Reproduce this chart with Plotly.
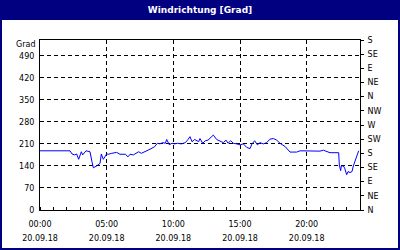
import plotly.graph_objects as go

DAY = "2018-09-20"
times = ["00:00", "00:30", "01:00", "01:30", "02:00", "02:15", "02:24", "02:36", "02:45", "02:54",
         "03:06", "03:12", "03:27", "03:45", "03:54", "04:00", "04:15", "04:30", "04:36", "04:45",
         "05:00", "05:07", "05:23", "05:45", "06:00", "06:24", "06:36", "06:45", "07:00", "07:15",
         "07:24", "07:36", "07:54", "08:15", "08:36", "08:48", "09:00", "09:12", "09:24", "09:30",
         "09:42", "09:54", "10:06", "10:18", "10:36", "10:54", "11:06", "11:15", "11:24", "11:36",
         "11:54", "12:00", "12:12", "12:24", "12:36", "13:00", "13:15", "13:30", "13:45", "13:57",
         "14:06", "14:18", "14:30", "14:45", "15:00", "15:15", "15:30", "15:45", "15:54", "16:06",
         "16:18", "16:30", "16:45", "17:00", "17:15", "17:30", "17:45", "18:00", "18:24", "18:45",
         "19:15", "19:30", "20:06", "21:00", "21:15", "21:30", "21:45", "22:24", "22:27", "22:33",
         "22:36", "22:45", "22:51", "23:00", "23:06", "23:15", "23:24", "23:30", "23:36", "23:45",
         "23:54"]
direction = [188, 188, 187, 188, 187, 188, 178, 175, 178, 161,
             185, 175, 188, 185, 153, 134, 140, 148, 178, 161,
             178, 177, 180, 183, 177, 177, 169, 177, 175, 180,
             185, 180, 185, 193, 201, 212, 210, 214, 212, 224,
             207, 212, 210, 212, 210, 214, 224, 233, 217, 224,
             217, 227, 212, 220, 222, 238, 224, 220, 214, 222,
             212, 220, 212, 210, 207, 210, 199, 195, 210, 220,
             207, 214, 210, 214, 225, 227, 222, 212, 201, 184,
             184, 188, 188, 187, 190, 187, 182, 182, 143, 125,
             140, 140, 133, 112, 122, 119, 122, 140, 153, 175,
             188]

y_ticks = [0, 70, 140, 210, 280, 350, 420, 490]
compass_vals = [0, 45, 90, 135, 180, 225, 270, 315, 360, 405, 450, 495, 540]
compass_text = ["N", "NE", "E", "SE", "S", "SW", "W", "NW", "N", "NE", "E", "SE", "S"]
x_tick_times = ["00:00", "05:00", "10:00", "15:00", "20:00"]
date_label = "20.09.18"
title = "Windrichtung [Grad]"
unit = "Grad"

x = [f"{DAY} {t}" for t in times]
x_ticks = [f"{DAY} {t}" for t in x_tick_times]
x_range = [f"{DAY} 00:00", "2018-09-21 00:00"]
y_range = [0, 540]

FONT = "DejaVu Sans"
NAVY = "#000080"

fig = go.Figure()
fig.add_trace(go.Scatter(x=x, y=direction, mode="lines",
                         line=dict(color="#0000ff", width=1), showlegend=False))
# same series on the secondary (compass / date) axes so they are drawn
fig.add_trace(go.Scatter(x=x, y=direction, mode="lines", xaxis="x2", yaxis="y2",
                         line=dict(color="rgba(0,0,0,0)", width=0), opacity=0,
                         hoverinfo="skip", showlegend=False))

fig.update_layout(
    width=400, height=250,
    margin=dict(l=40, r=40, t=40, b=40, autoexpand=False),
    paper_bgcolor="white", plot_bgcolor="white",
    title=dict(text=f"<b>{title}</b>", x=0.5, xanchor="center", y=1 - 10 / 250,
               yanchor="middle", yref="container",
               font=dict(family=FONT, size=9, color="white")),
    font=dict(family=FONT, size=8, color="#000000"),
    xaxis=dict(type="date", range=x_range, tickvals=x_ticks, ticktext=x_tick_times,
               showline=True, linecolor="black", linewidth=1, mirror=True,
               showgrid=True, gridcolor="black", griddash="4px,3px", gridwidth=1,
               ticks="", ticklabelstandoff=6, zeroline=False, automargin=False,
               minor=dict(dtick=3600000, ticks="inside", ticklen=3, tickcolor="black",
                          showgrid=False)),
    xaxis2=dict(type="date", range=x_range, overlaying="x", side="bottom", anchor="y2",
                tickvals=x_ticks, ticktext=[date_label] * len(x_ticks),
                showline=False, showgrid=False, ticks="", ticklabelstandoff=22,
                zeroline=False, automargin=False),
    yaxis=dict(range=y_range, tickvals=y_ticks, showline=True, linecolor="black",
               linewidth=1, mirror=True, showgrid=True, gridcolor="black",
               griddash="4px,3px", gridwidth=1, ticks="", zeroline=False,
               ticklabelstandoff=3, automargin=False),
    yaxis2=dict(range=y_range, overlaying="y", side="right", anchor="x2",
                tickvals=compass_vals, ticktext=compass_text, ticks="outside",
                ticklen=3, tickcolor="black", showgrid=False, zeroline=False,
                showline=True, linecolor="black", linewidth=1, ticklabelstandoff=2,
                automargin=False),
    shapes=[
        dict(type="rect", xref="paper", yref="paper", x0=-40 / 320, x1=1 + 40 / 320,
             y0=1 + 20 / 170, y1=1 + 40 / 170, fillcolor=NAVY, line=dict(width=0),
             layer="below"),
        dict(type="rect", xref="paper", yref="paper", x0=-40 / 320, x1=1 + 40 / 320,
             y0=-40 / 170, y1=1 + 40 / 170, fillcolor="rgba(0,0,0,0)",
             line=dict(color=NAVY, width=4), layer="below"),
    ],
    annotations=[dict(text=unit, xref="paper", yref="paper", x=-3 / 320, y=(210 - 44) / 170,
                      xanchor="right", yanchor="middle", showarrow=False,
                      font=dict(family=FONT, size=8, color="black"))],
)

fig.write_html("out.html")
